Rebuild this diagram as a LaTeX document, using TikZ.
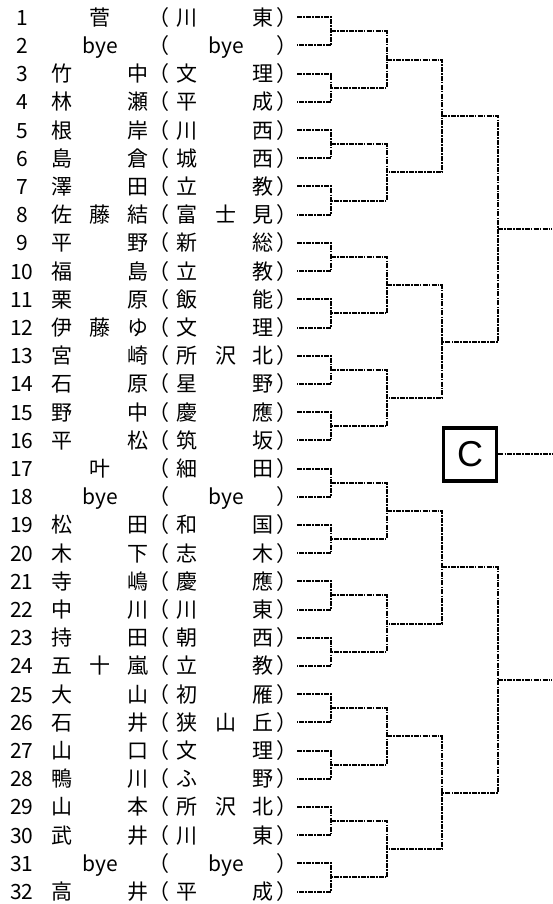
\documentclass[tikz,border=0pt]{standalone}
\usepackage{fontspec}
\setmainfont{Noto Sans CJK JP}
\newfontfamily\latinC{Liberation Sans}
\tikzset{
  txt/.style={inner sep=0pt, text height=18pt, text depth=2pt, anchor=center,
    font=\fontsize{21}{21}\selectfont},
  br/.style={line width=2pt, dash pattern=on 5pt off 1.2pt on 1.5pt off 1.2pt},
  cbox/.style={draw, line width=3.4pt, minimum size=53.2pt, inner sep=0pt,
    font=\latinC\fontsize{36}{36}\selectfont},
}
\newcommand\brow[7]{%
  \pgfmathsetmacro\yy{17.3+(#1-1)*28.2}%
  \node[txt] (n#1) at (22,\yy) {#1};
  \node[txt] (a#1) at (62,\yy) {#2};
  \node[txt] (b#1) at (100,\yy) {#3};
  \node[txt] (c#1) at (138,\yy) {#4};
  \node[txt] (lp#1) at (158.5,\yy) {（};
  \node[txt] (d#1) at (187,\yy) {#5};
  \node[txt] (e#1) at (226,\yy) {#6};
  \node[txt] (f#1) at (263,\yy) {#7};
  \node[txt] (rp#1) at (286.5,\yy) {）};
}
\begin{document}
\begin{tikzpicture}[x=1pt,y=-1pt]
\fill[white] (0,0) rectangle (552,904);
\useasboundingbox (0,0) rectangle (552,904);
\brow{1}{}{菅}{}{川}{}{東}
\brow{2}{}{bye}{}{}{bye}{}
\brow{3}{竹}{}{中}{文}{}{理}
\brow{4}{林}{}{瀬}{平}{}{成}
\brow{5}{根}{}{岸}{川}{}{西}
\brow{6}{島}{}{倉}{城}{}{西}
\brow{7}{澤}{}{田}{立}{}{教}
\brow{8}{佐}{藤}{結}{富}{士}{見}
\brow{9}{平}{}{野}{新}{}{総}
\brow{10}{福}{}{島}{立}{}{教}
\brow{11}{栗}{}{原}{飯}{}{能}
\brow{12}{伊}{藤}{ゆ}{文}{}{理}
\brow{13}{宮}{}{崎}{所}{沢}{北}
\brow{14}{石}{}{原}{星}{}{野}
\brow{15}{野}{}{中}{慶}{}{應}
\brow{16}{平}{}{松}{筑}{}{坂}
\brow{17}{}{叶}{}{細}{}{田}
\brow{18}{}{bye}{}{}{bye}{}
\brow{19}{松}{}{田}{和}{}{国}
\brow{20}{木}{}{下}{志}{}{木}
\brow{21}{寺}{}{嶋}{慶}{}{應}
\brow{22}{中}{}{川}{川}{}{東}
\brow{23}{持}{}{田}{朝}{}{西}
\brow{24}{五}{十}{嵐}{立}{}{教}
\brow{25}{大}{}{山}{初}{}{雁}
\brow{26}{石}{}{井}{狭}{山}{丘}
\brow{27}{山}{}{口}{文}{}{理}
\brow{28}{鴨}{}{川}{ふ}{}{野}
\brow{29}{山}{}{本}{所}{沢}{北}
\brow{30}{武}{}{井}{川}{}{東}
\brow{31}{}{bye}{}{}{bye}{}
\brow{32}{高}{}{井}{平}{}{成}
% round 1
\foreach \k in {1,...,16}{
  \pgfmathtruncatemacro\ra{2*\k-1}
  \pgfmathtruncatemacro\rb{2*\k}
  \coordinate (j1-\k) at (331,{17.3+(2*\k-1.5)*28.2});
  \draw[br] (rp\ra.east) -| (j1-\k) |- (rp\rb.east);
}
% round 2
\foreach \k in {1,...,8}{
  \pgfmathtruncatemacro\ra{2*\k-1}
  \pgfmathtruncatemacro\rb{2*\k}
  \coordinate (j2-\k) at (387,{17.3+(4*\k-2.5)*28.2});
  \draw[br] (j1-\ra) -| (j2-\k) |- (j1-\rb);
}
% round 3
\foreach \k in {1,...,4}{
  \pgfmathtruncatemacro\ra{2*\k-1}
  \pgfmathtruncatemacro\rb{2*\k}
  \coordinate (j3-\k) at (442,{17.3+(8*\k-4.5)*28.2});
  \draw[br] (j2-\ra) -| (j3-\k) |- (j2-\rb);
}
% round 4
\foreach \k in {1,2}{
  \pgfmathtruncatemacro\ra{2*\k-1}
  \pgfmathtruncatemacro\rb{2*\k}
  \coordinate (j4-\k) at (498,{17.3+(16*\k-8.5)*28.2});
  \draw[br] (j3-\ra) -| (j4-\k) |- (j3-\rb);
}
\coordinate (t1) at (552,{17.3+7.5*28.2});
\coordinate (t2) at (552,{17.3+23.5*28.2});
\draw[br] (j4-1) -- (t1);
\draw[br] (j4-2) -- (t2);
\node[cbox] (C) at (470,454.4) {C};
\coordinate (tc) at (552,454.4);
\draw[br] (C.east) -- (tc);
\end{tikzpicture}
\end{document}
